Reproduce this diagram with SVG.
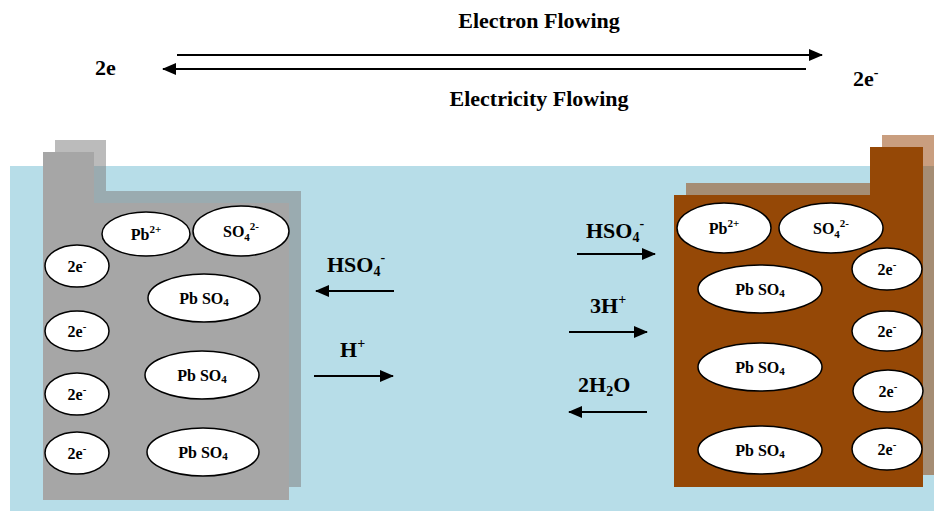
<svg xmlns="http://www.w3.org/2000/svg" width="934" height="511" viewBox="0 0 934 511">
<style>
text{font-family:"Liberation Serif","Times New Roman",serif;font-weight:bold;fill:#000}
.t{font-size:22px}
.e{font-size:16px;text-anchor:middle}
.ell{fill:#fff;stroke:#000;stroke-width:1.5}
.ar{stroke:#000;stroke-width:2;fill:none;marker-end:url(#ah)}
.sub{font-size:14px}
.es{font-size:11px}
</style>
<defs>
<marker id="ah" markerUnits="userSpaceOnUse" markerWidth="14" markerHeight="12" refX="13" refY="6" orient="auto">
<path d="M0,0 L14,6 L0,12 Z" fill="#000"/>
</marker>
</defs>
<rect x="10" y="166" width="924" height="345" fill="#B7DDE8"/>
<g id="left-electrode">
<path d="M55,140 H106 V191 H301 V487 H55 Z" fill="#818181" fill-opacity="0.54"/>
<path d="M43,152 H94 V203 H289 V500 H43 Z" fill="#A6A6A6"/>
</g>
<g id="right-electrode">
<path d="M882,135 H935 V475 H686 V183 H882 Z" fill="#943E00" fill-opacity="0.5"/>
<path d="M870,147 H923 V487 H674 V195 H870 Z" fill="#954806"/>
</g>
<g id="l-pb2"><ellipse class="ell" cx="146" cy="234" rx="44" ry="22"/><text class="e" x="146" y="240">Pb<tspan class="es" dy="-7">2+</tspan></text></g>
<g id="l-so4"><ellipse class="ell" cx="241" cy="231" rx="48" ry="25"/><text class="e" x="241" y="237">SO<tspan class="es" dy="4">4</tspan><tspan class="es" dy="-11">2-</tspan></text></g>
<g id="l-e1"><ellipse class="ell" cx="77" cy="266" rx="32" ry="21"/><text class="e" x="77" y="272">2e<tspan class="es" dy="-7">-</tspan></text></g>
<g id="l-e2"><ellipse class="ell" cx="77" cy="331" rx="32" ry="20"/><text class="e" x="77" y="337">2e<tspan class="es" dy="-7">-</tspan></text></g>
<g id="l-e3"><ellipse class="ell" cx="77" cy="394" rx="32" ry="21"/><text class="e" x="77" y="400">2e<tspan class="es" dy="-7">-</tspan></text></g>
<g id="l-e4"><ellipse class="ell" cx="77" cy="453" rx="32" ry="21"/><text class="e" x="77" y="459">2e<tspan class="es" dy="-7">-</tspan></text></g>
<g id="l-pbso4-1"><ellipse class="ell" cx="204" cy="298" rx="56" ry="24"/><text class="e" x="204" y="304">Pb SO<tspan class="es" dy="2">4</tspan></text></g>
<g id="l-pbso4-2"><ellipse class="ell" cx="202" cy="375" rx="57" ry="24"/><text class="e" x="202" y="381">Pb SO<tspan class="es" dy="2">4</tspan></text></g>
<g id="l-pbso4-3"><ellipse class="ell" cx="203" cy="452" rx="56" ry="24"/><text class="e" x="203" y="458">Pb SO<tspan class="es" dy="2">4</tspan></text></g>
<g id="r-pb2"><ellipse class="ell" cx="724" cy="228" rx="47" ry="25"/><text class="e" x="724" y="234">Pb<tspan class="es" dy="-7">2+</tspan></text></g>
<g id="r-so4"><ellipse class="ell" cx="831" cy="228" rx="52" ry="25"/><text class="e" x="831" y="234">SO<tspan class="es" dy="4">4</tspan><tspan class="es" dy="-11">2-</tspan></text></g>
<g id="r-e1"><ellipse class="ell" cx="887" cy="269" rx="35" ry="21"/><text class="e" x="887" y="275">2e<tspan class="es" dy="-7">-</tspan></text></g>
<g id="r-e2"><ellipse class="ell" cx="887" cy="331" rx="35" ry="20"/><text class="e" x="887" y="337">2e<tspan class="es" dy="-7">-</tspan></text></g>
<g id="r-e3"><ellipse class="ell" cx="888" cy="391" rx="35" ry="21"/><text class="e" x="888" y="397">2e<tspan class="es" dy="-7">-</tspan></text></g>
<g id="r-e4"><ellipse class="ell" cx="887" cy="449" rx="35" ry="21"/><text class="e" x="887" y="455">2e<tspan class="es" dy="-7">-</tspan></text></g>
<g id="r-pbso4-1"><ellipse class="ell" cx="760" cy="289" rx="62" ry="24"/><text class="e" x="760" y="295">Pb SO<tspan class="es" dy="2">4</tspan></text></g>
<g id="r-pbso4-2"><ellipse class="ell" cx="760" cy="367" rx="62" ry="24"/><text class="e" x="760" y="373">Pb SO<tspan class="es" dy="2">4</tspan></text></g>
<g id="r-pbso4-3"><ellipse class="ell" cx="760" cy="450" rx="62" ry="24"/><text class="e" x="760" y="456">Pb SO<tspan class="es" dy="2">4</tspan></text></g>
<g id="labels">
<text class="t" x="539" y="28" text-anchor="middle">Electron Flowing</text>
<text class="t" x="539" y="106" text-anchor="middle">Electricity Flowing</text>
<text class="t" x="95" y="75">2e</text>
<text class="t" x="853" y="86">2e<tspan class="sub" dy="-9">-</tspan></text>
<text class="t" x="327" y="272">HSO<tspan class="sub" dy="4">4</tspan><tspan class="sub" dy="-14">-</tspan></text>
<text class="t" x="340" y="357">H<tspan class="sub" dy="-9">+</tspan></text>
<text class="t" x="586" y="238">HSO<tspan class="sub" dy="4">4</tspan><tspan class="sub" dy="-14">-</tspan></text>
<text class="t" x="590" y="313">3H<tspan class="sub" dy="-9">+</tspan></text>
<text class="t" x="578" y="392">2H<tspan class="sub" dy="4">2</tspan><tspan dy="-4">O</tspan></text>
</g>
<g id="connectors">
<line class="ar" x1="177" y1="55" x2="822" y2="55"/>
<line class="ar" x1="806" y1="69" x2="163" y2="69"/>
<line class="ar" x1="394" y1="291" x2="316" y2="291"/>
<line class="ar" x1="314" y1="376" x2="393" y2="376"/>
<line class="ar" x1="577" y1="254" x2="655" y2="254"/>
<line class="ar" x1="569" y1="332" x2="647" y2="332"/>
<line class="ar" x1="647" y1="412" x2="569" y2="412"/>
</g>
</svg>
